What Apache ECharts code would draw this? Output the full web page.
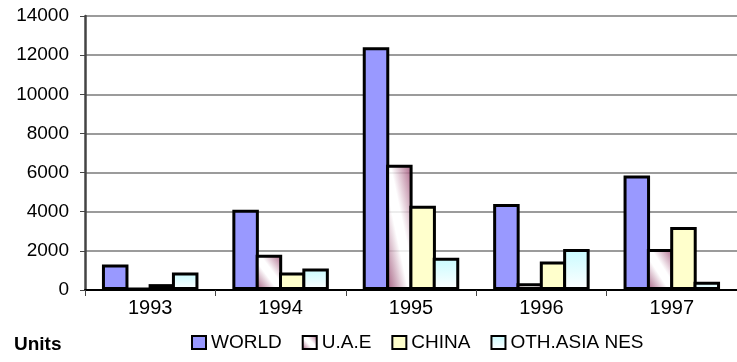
<!DOCTYPE html>
<html>
<head>
<meta charset="utf-8">
<script src="https://cdn.jsdelivr.net/npm/echarts@6/dist/echarts.min.js"></script>
<style>
  html, body { margin: 0; padding: 0; background: #ffffff; }
  #chart { width: 737px; height: 362px; }
</style>
</head>
<body>
<div id="chart"></div>
<script>
// Yearly units by destination
const years = ['1993', '1994', '1995', '1996', '1997'];
const world = [1300, 4100, 12400, 4400, 5850];
const uae = [100, 1800, 6400, 350, 2100];
const china = [300, 900, 4300, 1450, 3220];
const othAsia = [900, 1100, 1650, 2100, 420];
const yTicks = [0, 2000, 4000, 6000, 8000, 10000, 12000, 14000];

const FONT = '"Liberation Sans", Arial, sans-serif';

// maroon corners, white band along the bar's top-left/bottom-right diagonal
const UAE_STOPS = [
  { offset: 0, color: 'rgba(140,52,95,0.85)' },
  { offset: 0.42, color: 'rgba(255,255,255,0.82)' },
  { offset: 0.58, color: 'rgba(255,255,255,0.82)' },
  { offset: 1, color: 'rgba(150,62,105,0.85)' }
];
function diagonalGradient(w, h) {
  w = Math.abs(w) || 1;
  h = Math.abs(h) || 1;
  const n = w * w + h * h;
  const a = (h * h) / n;
  const b = (w * w) / n;
  return new echarts.graphic.LinearGradient(0.5 - a, 0.5 + b, 0.5 + a, 0.5 - b, UAE_STOPS);
}
const othFill = new echarts.graphic.LinearGradient(0, 0, 0, 1, [
  { offset: 0, color: '#c8fbff' },
  { offset: 1, color: '#ffffff' }
]);

function barSeries(name, data, fill) {
  return {
    name: name,
    type: 'bar',
    data: data,
    barGap: '-12%',
    barCategoryGap: '26%',
    itemStyle: { color: fill, borderColor: '#000000', borderWidth: 3 },
    emphasis: { disabled: true }
  };
}

const chart = echarts.init(document.getElementById('chart'), null, { renderer: 'canvas' });
chart.setOption({
  animation: false,
  backgroundColor: '#ffffff',
  grid: { left: 85, top: 16, width: 659, height: 274, containLabel: false },
  legend: {
    left: 186,
    top: 328,
    itemGap: 20,
    itemWidth: 14,
    itemHeight: 13,
    icon: 'rect',
    textStyle: { fontFamily: FONT, fontSize: 19, color: '#000000' },
    itemStyle: { borderColor: '#000000', borderWidth: 2 },
    data: [
      { name: 'WORLD', itemStyle: { color: '#9999ff' } },
      { name: 'U.A.E', itemStyle: { color: diagonalGradient(1, 1) } },
      { name: 'CHINA', itemStyle: { color: '#ffffcc' } },
      { name: 'OTH.ASIA NES', itemStyle: { color: othFill } }
    ]
  },
  graphic: [{
    type: 'text',
    left: 14,
    top: 335,
    style: { text: 'Units', fontFamily: FONT, fontSize: 19, fontWeight: 'bold', fill: '#000000' }
  }],
  xAxis: {
    type: 'category',
    data: years,
    axisLine: { lineStyle: { color: '#000000', width: 2 } },
    axisTick: { show: true, length: 6, lineStyle: { color: '#444444', width: 1 } },
    axisLabel: { fontFamily: FONT, fontSize: 20, color: '#000000', margin: 8 },
    splitLine: { show: false }
  },
  yAxis: {
    type: 'value',
    min: yTicks[0],
    max: yTicks[yTicks.length - 1],
    interval: yTicks[1] - yTicks[0],
    axisLine: { show: true, lineStyle: { color: '#444444', width: 2.5 } },
    axisTick: { show: true, length: 5, lineStyle: { color: '#444444', width: 1 } },
    axisLabel: { fontFamily: FONT, fontSize: 19, color: '#000000', margin: 16, formatter: (v) => String(v) },
    splitLine: { show: true, lineStyle: { color: '#7a7a7a', width: 1.5 } }
  },
  series: [
    barSeries('WORLD', world, '#9999ff'),
    barSeries('U.A.E', uae, diagonalGradient(1, 1)),
    barSeries('CHINA', china, '#ffffcc'),
    barSeries('OTH.ASIA NES', othAsia, othFill)
  ]
});

// give each U.A.E bar a diagonal fill fitted to its own laid-out size
const uaeData = chart.getModel().getSeriesByIndex(1).getData();
chart.setOption({
  series: [{}, {
    data: uae.map((v, i) => {
      const lay = uaeData.getItemLayout(i) || { width: 1, height: 1 };
      return { value: v, itemStyle: { color: diagonalGradient(lay.width, lay.height) } };
    })
  }]
});
</script>
</body>
</html>
